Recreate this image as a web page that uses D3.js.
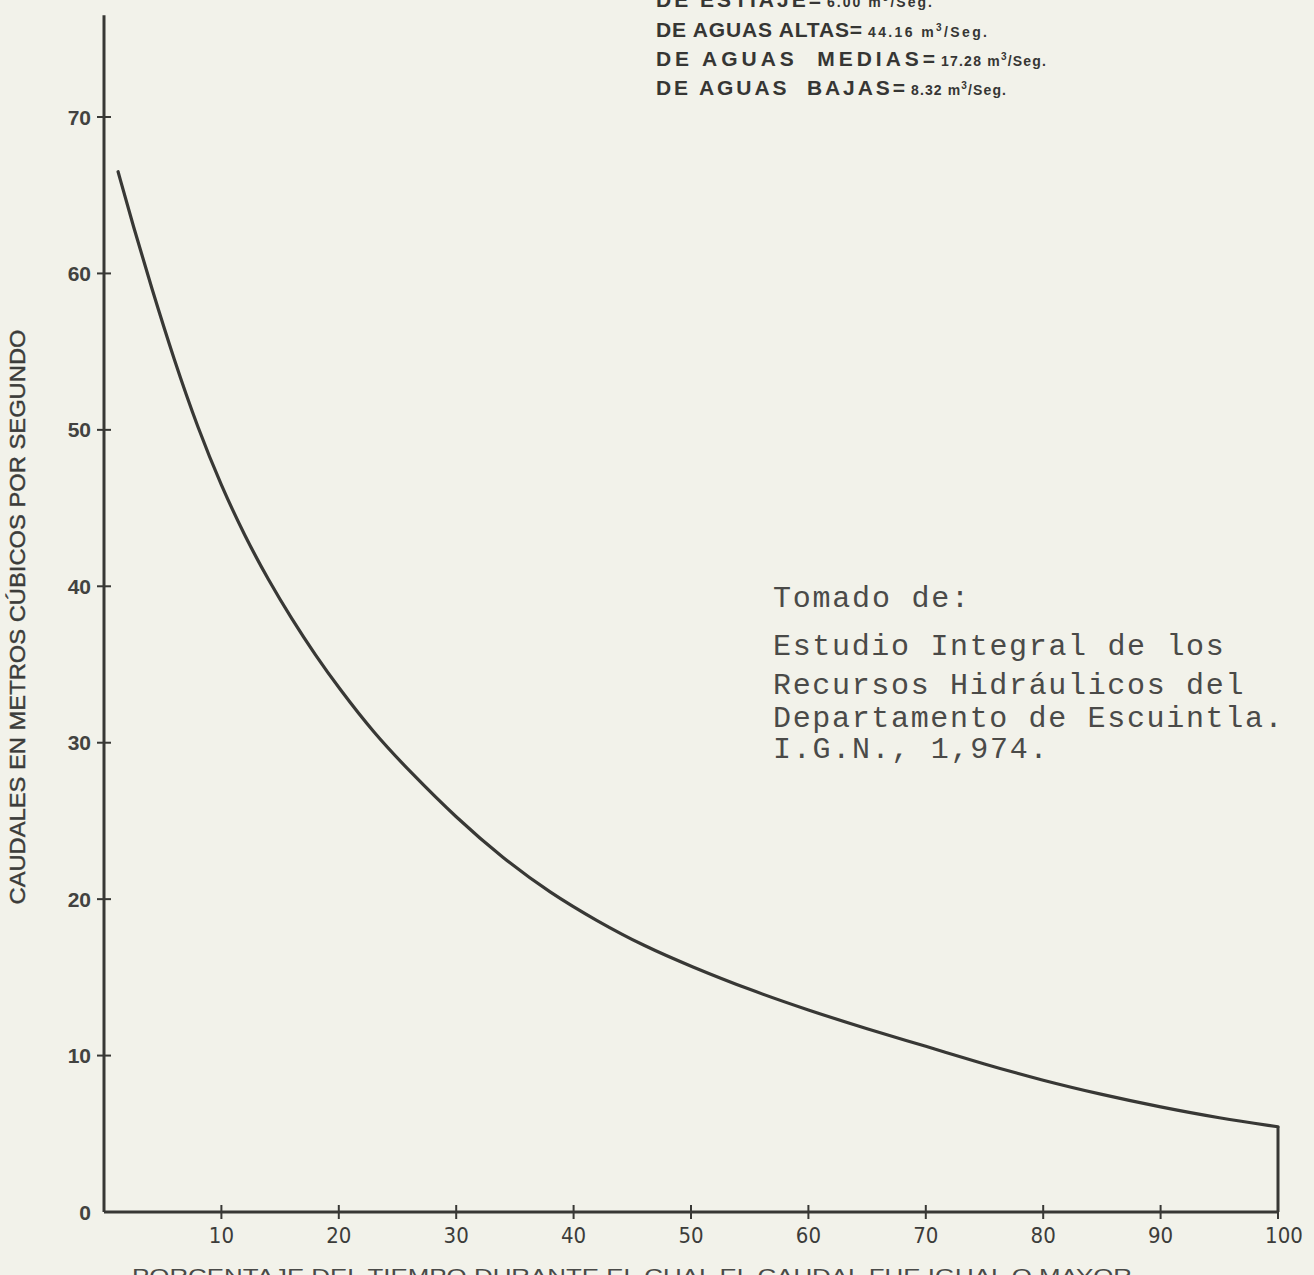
<!DOCTYPE html>
<html>
<head>
<meta charset="utf-8">
<script src="https://cdn.jsdelivr.net/npm/d3@7"></script>
<style>
  html, body { margin:0; padding:0; background:#f2f2ea; }
  svg { display:block; }
</style>
</head>
<body>
<svg id="chart" width="1314" height="1275"></svg>
<script>
// ---- data ----
const percentTime = [1.2, 2.5, 4, 6, 8, 10, 12, 14, 16, 18, 20, 23, 26, 30, 34, 38, 42, 46, 50, 55, 60, 65, 70, 75, 80, 85, 90, 95, 100];
const flowValues  = [66.5, 63.0, 59.2, 54.4, 50.1, 46.4, 43.2, 40.4, 37.9, 35.6, 33.5, 30.6, 28.2, 25.2, 22.6, 20.4, 18.6, 17.0, 15.7, 14.2, 12.9, 11.7, 10.6, 9.45, 8.4, 7.5, 6.7, 6.0, 5.45];
const xTicks = [10, 20, 30, 40, 50, 60, 70, 80, 90, 100];
const yTicks = [10, 20, 30, 40, 50, 60, 70];
const yTickLabels = ["0", "10", "20", "30", "40", "50", "60", "70"];
const yAxisTopValue = 76.5;
const summaryLabels = ["DE ESTIAJE=", "DE AGUAS ALTAS=", "DE AGUAS  MEDIAS=", "DE AGUAS  BAJAS="];
const summaryValues = ["6.00", "44.16", "17.28", "8.32"];
const sourceLines = ["Tomado de:", "Estudio Integral de los", "Recursos Hidráulicos del", "Departamento de Escuintla.", "I.G.N., 1,974."];
const yTitle = "CAUDALES EN METROS CÚBICOS POR SEGUNDO";
const xTitle = "PORCENTAJE DEL TIEMPO DURANTE EL CUAL EL CAUDAL FUE IGUAL O MAYOR";

const ink = "#383835";
const svg = d3.select("#chart");

const x = d3.scaleLinear().domain([0, 100]).range([104, 1278]);
const y = d3.scaleLinear().domain([0, 70]).range([1212, 117]);

// axes lines
svg.append("line")
  .attr("x1", x(0)).attr("x2", x(0))
  .attr("y1", y(0)).attr("y2", y(yAxisTopValue))
  .attr("stroke", ink).attr("stroke-width", 3);
svg.append("line")
  .attr("x1", x(0)).attr("x2", x(100))
  .attr("y1", y(0)).attr("y2", y(0))
  .attr("stroke", ink).attr("stroke-width", 3);

// y ticks
svg.selectAll(".ytick").data(yTicks).enter().append("line")
  .attr("x1", x(0) - 7).attr("x2", x(0) + 7)
  .attr("y1", d => y(d)).attr("y2", d => y(d))
  .attr("stroke", ink).attr("stroke-width", 2);
svg.selectAll(".ylab").data(yTickLabels).enter().append("text")
  .attr("x", x(0) - 13)
  .attr("y", d => y(+d))
  .attr("dy", "0.36em")
  .attr("text-anchor", "end")
  .attr("font-family", "'Liberation Sans', Arial, sans-serif")
  .attr("font-weight", "bold")
  .attr("font-size", 21)
  .attr("fill", "#424240")
  .text(d => d);

// x ticks
svg.selectAll(".xtick").data(xTicks).enter().append("line")
  .attr("x1", d => x(d)).attr("x2", d => x(d))
  .attr("y1", y(0) - 7).attr("y2", y(0) + 7)
  .attr("stroke", ink).attr("stroke-width", 2);
svg.selectAll(".xlab").data(xTicks).enter().append("text")
  .attr("x", d => x(d) + (d === 100 ? 6 : 0))
  .attr("y", y(0) + 31)
  .attr("text-anchor", "middle")
  .attr("font-family", "'DejaVu Sans Condensed', 'Liberation Sans Narrow', sans-serif")
  .attr("font-weight", 300)
  .attr("font-size", 22)
  .attr("fill", "#3c3c3a")
  .text(d => d);

// curve
const pts = percentTime.map((p, i) => [p, flowValues[i]]);
const line = d3.line().x(d => x(d[0])).y(d => y(d[1])).curve(d3.curveBasis);
svg.append("path")
  .attr("d", line(pts))
  .attr("fill", "none")
  .attr("stroke", ink)
  .attr("stroke-width", 3.2)
  .attr("stroke-linecap", "round");
// closing vertical at 100%
const last = pts[pts.length - 1];
svg.append("line")
  .attr("x1", x(last[0])).attr("x2", x(last[0]))
  .attr("y1", y(last[1])).attr("y2", y(0))
  .attr("stroke", ink).attr("stroke-width", 3);

// axis titles
svg.append("text")
  .attr("transform", "translate(25,617) rotate(-90)")
  .attr("text-anchor", "middle")
  .attr("font-family", "'Liberation Sans', Arial, sans-serif")
  .attr("font-size", 22)
  .attr("stroke", "#3c3c3a").attr("stroke-width", 0.4)
  .attr("textLength", 575)
  .attr("lengthAdjust", "spacingAndGlyphs")
  .attr("fill", "#3c3c3a")
  .text(yTitle);

svg.append("text")
  .attr("x", 132).attr("y", 1283)
  .attr("font-family", "'Liberation Sans', Arial, sans-serif")
  .attr("font-size", 20)
  .attr("textLength", 1000)
  .attr("lengthAdjust", "spacingAndGlyphs")
  .attr("fill", "#4a4a48")
  .text(xTitle);

// summary block (top)
const sumBase = [7, 37, 66, 95];
const labelWidths = [165, 206, 279, 249];
const valueWidths = [105, 119, 105, 95];
summaryLabels.forEach((lab, i) => {
  svg.append("text")
    .attr("x", 656).attr("y", sumBase[i])
    .attr("font-family", "'Liberation Sans', Arial, sans-serif")
    .attr("font-weight", "bold")
    .attr("font-size", 21)
    .attr("fill", "#363634")
    .attr("xml:space", "preserve")
    .attr("textLength", labelWidths[i])
    .attr("lengthAdjust", "spacing")
    .text(lab);
  const v = svg.append("text")
    .attr("x", 656 + labelWidths[i] + 6).attr("y", sumBase[i])
    .attr("font-family", "'Liberation Sans', Arial, sans-serif")
    .attr("font-weight", "bold")
    .attr("font-size", 14)
    .attr("fill", "#363634")
    .attr("textLength", valueWidths[i])
    .attr("lengthAdjust", "spacing");
  v.append("tspan").text(summaryValues[i] + " m");
  v.append("tspan").attr("font-size", 10).attr("dy", -6).text("3");
  v.append("tspan").attr("dy", 6).text("/Seg.");
});

// source note
const srcBase = [607, 655, 694, 727, 758];
svg.selectAll(".src").data(sourceLines).enter().append("text")
  .attr("x", 773)
  .attr("y", (d, i) => srcBase[i])
  .attr("font-family", "'Liberation Mono', 'Courier New', monospace")
  .attr("font-size", 30)
  .attr("fill", "#4a4a48")
  .attr("textLength", d => d.length * 19.6)
  .attr("lengthAdjust", "spacing")
  .text(d => d);
</script>
</body>
</html>
